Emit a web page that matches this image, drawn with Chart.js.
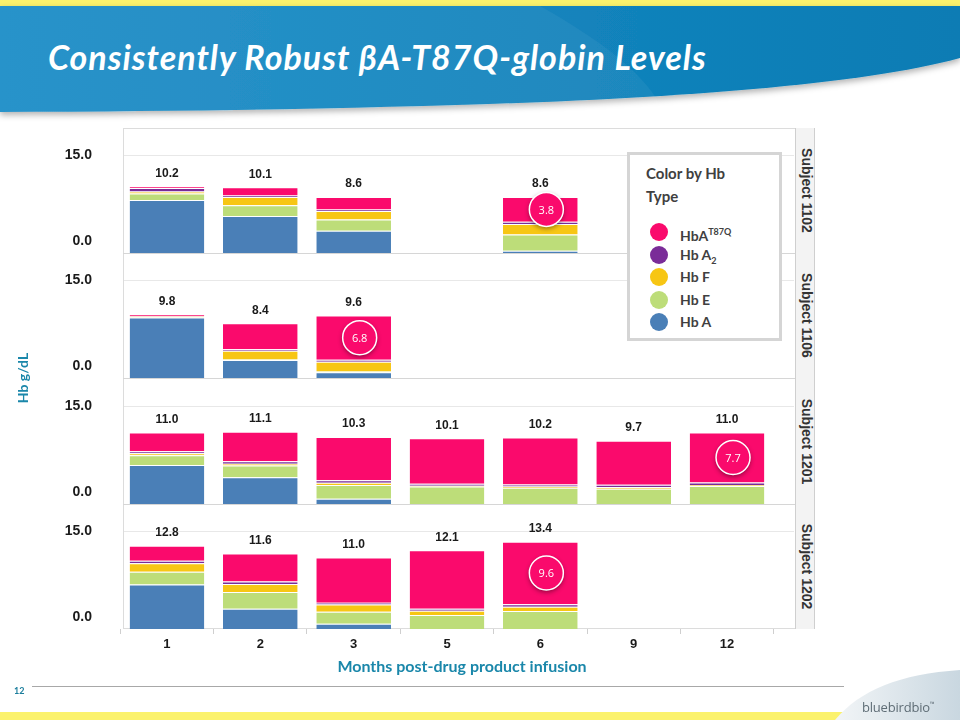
<!DOCTYPE html>
<html>
<head>
<meta charset="utf-8">
<script src="https://cdn.jsdelivr.net/npm/chart.js@4.4.1/dist/chart.umd.min.js"></script>
<style>
  body { margin: 0; width: 960px; height: 720px; position: relative; overflow: hidden; background: #fff; font-family: Lato, "Open Sans", sans-serif; }
  .abs { position: absolute; }
  canvas { position: absolute; left: 0; }
  #title { left: 48px; top: 36px; color: #fff; font: italic 700 34px Lato, sans-serif; letter-spacing: 1px; white-space: nowrap; }
  #frame { left: 123px; top: 128px; width: 692px; height: 501px; border: 1px solid #dcdcdc; box-sizing: border-box; }
  .sep { left: 123px; width: 692px; height: 0; border-top: 1px solid #d6d6d6; }
  #strip { left: 795px; top: 128px; width: 20px; height: 501px; background: #f3f3f3; border-left: 1px solid #cfcfcf; border-right: 1px solid #cfcfcf; box-sizing: border-box; }
  .subj { width: 125px; height: 20px; line-height: 20px; text-align: center; font: 700 14px "Liberation Sans", Arial, sans-serif; color: #333;
          transform-origin: 0 0; transform: rotate(90deg); white-space: nowrap; }
  #legend { left: 627px; top: 152px; width: 155px; height: 189px; border: 3px solid #d5d5d5; background: #fff; box-sizing: border-box; z-index: 5; }
  #legend .lt { position: absolute; left: 16px; top: 7px; font: 700 15px Lato, sans-serif; color: #404040; line-height: 23px; }
  #legend .it { position: absolute; left: 20px; height: 20px; font: 700 14px Lato, sans-serif; color: #404040; line-height: 20px; }
  #legend .dot { position: absolute; left: 0; top: 1px; width: 18px; height: 18px; border-radius: 50%; }
  #legend .tx { position: absolute; left: 30px; top: 0; white-space: nowrap; }
  #legend sup { font-size: 9px; vertical-align: 6px; }
  #legend sub { font-size: 9px; vertical-align: -4px; }
  #ytitle { left: 22px; top: 378px; font: 700 14px Lato, sans-serif; color: #1a87aa; transform: translate(-50%, -50%) rotate(-90deg); white-space: nowrap; }
  #xtitle { left: 462px; top: 656px; font: 700 16px Lato, sans-serif; color: #1a87aa; transform: translateX(-50%); white-space: nowrap; }
  #pageno { left: 14px; top: 685px; font: 700 9px Lato, sans-serif; color: #1a7d9c; }
  #footline { left: 32px; top: 686px; width: 812px; height: 0; border-top: 1px solid #a8a8a8; }
  #logo { left: 862px; top: 698px; font: 400 13px "Open Sans", sans-serif; color: #5f6d76; letter-spacing: -0.2px; }
</style>
</head>
<body>
<svg class="abs" style="left:0;top:0" width="960" height="125">
  <defs>
    <linearGradient id="bg" x1="0" y1="0" x2="1" y2="0">
      <stop offset="0" stop-color="#1f8ec8"/>
      <stop offset="1" stop-color="#0a7cb4"/>
    </linearGradient>
    <filter id="sh" x="-5%" y="-5%" width="110%" height="130%">
      <feDropShadow dx="0" dy="3" stdDeviation="3" flood-color="#000" flood-opacity="0.3"/>
    </filter>
  </defs>
  <rect x="0" y="0" width="960" height="8" fill="#fbf26c"/>
  <path d="M0,6 H960 V58 C820,96 500,110 0,112 Z" fill="url(#bg)" filter="url(#sh)"/>
  <path d="M0,6 H540 C600,40 640,70 660,104 C400,110 200,112 0,112 Z" fill="#ffffff" opacity="0.05"/>
</svg>
<div id="title" class="abs">Consistently Robust βA-T87Q-globin Levels</div>

<div id="frame" class="abs"></div>
<div class="abs sep" style="top:253px"></div>
<div class="abs sep" style="top:378px"></div>
<div class="abs sep" style="top:504px"></div>
<div id="strip" class="abs"></div>
<div id="subjects"></div>

<canvas id="p0" width="960" height="125" style="top:128px"></canvas>
<canvas id="p1" width="960" height="125" style="top:253px"></canvas>
<canvas id="p2" width="960" height="125" style="top:379px"></canvas>
<canvas id="p3" width="960" height="160" style="top:504px"></canvas>

<div id="legend" class="abs">
  <div class="lt">Color by Hb<br>Type</div>
  <div class="it" style="top:67px"><div class="dot" style="background:#fa0a6c"></div><div class="tx">HbA<sup>T87Q</sup></div></div>
  <div class="it" style="top:90px"><div class="dot" style="background:#7a2c98"></div><div class="tx">Hb A<sub>2</sub></div></div>
  <div class="it" style="top:112px"><div class="dot" style="background:#f7c614"></div><div class="tx">Hb F</div></div>
  <div class="it" style="top:135px"><div class="dot" style="background:#bddd79"></div><div class="tx">Hb E</div></div>
  <div class="it" style="top:157px"><div class="dot" style="background:#4a7fb7"></div><div class="tx">Hb A</div></div>
</div>

<div id="ytitle" class="abs">Hb g/dL</div>
<div id="xtitle" class="abs">Months post-drug product infusion</div>
<div id="footline" class="abs"></div>
<div id="pageno" class="abs">12</div>
<svg class="abs" style="left:0;top:660px" width="960" height="60">
  <defs>
    <linearGradient id="sw" x1="0" y1="0" x2="1" y2="0">
      <stop offset="0" stop-color="#f2f5f7"/>
      <stop offset="1" stop-color="#c9d7e0"/>
    </linearGradient>
  </defs>
  <rect x="0" y="52" width="960" height="8" fill="#fbf26c"/>
  <path d="M835,60 C860,30 900,14 960,10 V60 Z" fill="url(#sw)"/>
</svg>
<div id="logo" class="abs">bluebirdbio<span style="font-size:6px;vertical-align:6px">™</span></div>

<script>
const months = ['1', '2', '3', '5', '6', '9', '12'];
const subjects = ['Subject 1102', 'Subject 1106', 'Subject 1201', 'Subject 1202'];

// one row per subject, one value per month (g/dL)
const hbA = [
  [8.15, 5.7, 3.4, null, 0.35, null, null],
  [9.3, 2.75, 0.9, null, null, null, null],
  [6.0, 4.1, 0.8, 0, 0, 0, 0],
  [6.85, 3.1, 0.8, 0, 0, null, null]
];
const hbE = [
  [1.0, 1.65, 1.75, null, 2.5, null, null],
  [0.05, 0.1, 0.1, null, null, null, null],
  [1.5, 1.8, 2.1, 2.7, 2.5, 2.35, 2.75],
  [1.95, 2.6, 1.85, 2.15, 2.75, null, null]
];
const hbF = [
  [0.3, 1.25, 1.3, null, 1.6, null, null],
  [0.1, 1.35, 1.5, null, null, null, null],
  [0.3, 0.3, 0.35, 0.1, 0.2, 0.25, 0.15],
  [1.3, 1.2, 1.1, 0.65, 0.65, null, null]
];
const hbA2 = [
  [0.55, 0.25, 0.25, null, 0.35, null, null],
  [0.05, 0.2, 0.3, null, null, null, null],
  [0.3, 0.35, 0.4, 0.3, 0.3, 0.35, 0.4],
  [0.4, 0.4, 0.3, 0.3, 0.4, null, null]
];
const hbT87Q = [
  [0.2, 1.25, 1.9, null, 3.8, null, null],
  [0.3, 4.0, 6.8, null, null, null, null],
  [2.9, 4.55, 6.65, 7.0, 7.2, 6.75, 7.7],
  [2.3, 4.3, 6.95, 9.0, 9.6, null, null]
];
const totals = [
  [10.2, 10.1, 8.6, null, 8.6, null, null],
  [9.8, 8.4, 9.6, null, null, null, null],
  [11.0, 11.1, 10.3, 10.1, 10.2, 9.7, 11.0],
  [12.8, 11.6, 11.0, 12.1, 13.4, null, null]
];
// month index of the circled HbA-T87Q value in each panel
const callouts = [4, 2, 6, 4];

const colors = { A: '#4a7fb7', E: '#bddd79', F: '#f7c614', A2: '#7a2c98', T: '#fa0a6c' };
const panelTops = [128, 253, 379, 504];

// subject strip labels
const subjBox = document.getElementById('subjects');
subjects.forEach((s, i) => {
  const d = document.createElement('div');
  d.className = 'abs subj';
  d.textContent = s;
  d.style.left = '815px';
  d.style.top = (panelTops[i]) + 'px';
  subjBox.appendChild(d);
});

const panelPlugin = {
  id: 'panel',
  beforeDatasetsDraw(chart) {
    const ctx = chart.ctx;
    const gy = Math.round(chart.scales.y.getPixelForValue(15)) + 0.5;
    ctx.save();
    ctx.strokeStyle = '#e8e8e8';
    ctx.lineWidth = 1;
    ctx.beginPath();
    ctx.moveTo(124, gy);
    ctx.lineTo(794, gy);
    ctx.stroke();
    ctx.restore();
  },
  afterDraw(chart, args, opts) {
    const ctx = chart.ctx;
    const x = chart.scales.x, y = chart.scales.y;
    const p = opts.index;
    ctx.save();
    ctx.fillStyle = '#1a1a1a';
    ctx.font = 'bold 14px "Liberation Sans", Arial, sans-serif';
    ctx.textAlign = 'right';
    ctx.textBaseline = 'middle';
    ctx.fillText('15.0', 92, y.getPixelForValue(15));
    ctx.fillText('0.0', 92, y.getPixelForValue(0) - 12);

    // total Hb above each bar
    ctx.font = 'bold 12px "Liberation Sans", Arial, sans-serif';
    ctx.textAlign = 'center';
    totals[p].forEach((t, i) => {
      if (t === null) return;
      ctx.fillText(t.toFixed(1), x.getPixelForValue(i), y.getPixelForValue(t) - 13);
    });

    // circled HbA-T87Q value
    const bar = chart.getDatasetMeta(4).data[callouts[p]];
    const cx = bar.x + 6, cy = (bar.y + bar.base) / 2;
    ctx.shadowColor = 'rgba(0,0,0,0.45)';
    ctx.shadowBlur = 5;
    ctx.shadowOffsetY = 2;
    ctx.beginPath();
    ctx.arc(cx, cy, 17, 0, Math.PI * 2);
    ctx.fillStyle = colors.T;
    ctx.fill();
    ctx.shadowColor = 'transparent';
    ctx.lineWidth = 1.5;
    ctx.strokeStyle = '#fff';
    ctx.stroke();
    ctx.fillStyle = '#fff';
    ctx.font = '11px "Open Sans", sans-serif';
    ctx.fillText(hbT87Q[p][callouts[p]].toFixed(1), cx, cy + 1);
    ctx.restore();
  }
};

function makeSet(label, data, color) {
  return {
    label: label,
    data: data,
    backgroundColor: color,
    borderColor: 'rgba(255,255,255,0.75)',
    borderWidth: { top: 1, left: 0, right: 0, bottom: 0 },
    borderSkipped: false,
    barPercentage: 0.8,
    categoryPercentage: 1.0
  };
}

for (let p = 0; p < 4; p++) {
  const last = p === 3;
  new Chart(document.getElementById('p' + p), {
    type: 'bar',
    data: {
      labels: months,
      datasets: [
        makeSet('Hb A', hbA[p], colors.A),
        makeSet('Hb E', hbE[p], colors.E),
        makeSet('Hb F', hbF[p], colors.F),
        makeSet('Hb A2', hbA2[p], colors.A2),
        makeSet('HbA T87Q', hbT87Q[p], colors.T)
      ]
    },
    options: {
      responsive: false,
      animation: false,
      layout: { padding: { left: 120.3, right: 186.3, top: 0, bottom: 0 } },
      plugins: {
        legend: { display: false },
        tooltip: { enabled: false },
        panel: { index: p }
      },
      scales: {
        x: {
          stacked: true,
          display: last,
          afterFit: s => { s.height = last ? 35 : 0; },
          grid: { offset: true, drawOnChartArea: false, tickLength: 5, color: '#cfcfcf' },
          border: { display: false },
          ticks: { color: '#1a1a1a', padding: 3, font: { family: '"Liberation Sans", Arial, sans-serif', size: 13, weight: 'bold' } }
        },
        y: {
          stacked: true,
          display: false,
          min: 0,
          max: 19.2
        }
      }
    },
    plugins: [panelPlugin]
  });
}
</script>
</body>
</html>
